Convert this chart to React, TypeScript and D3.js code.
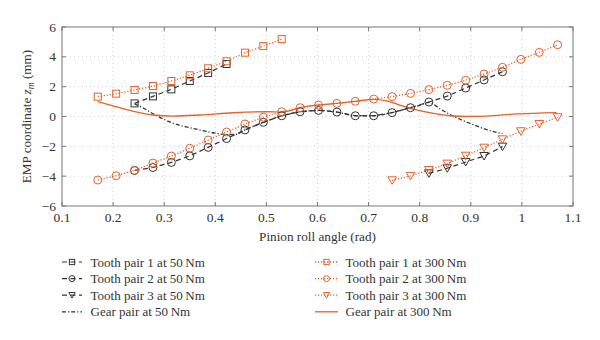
import React from "react";
import * as d3 from "d3";

const xTicks = [0.1, 0.2, 0.3, 0.4, 0.5, 0.6, 0.7, 0.8, 0.9, 1, 1.1];
const yTicks = [-6, -4, -2, 0, 2, 4, 6];

const tp1x = [0.17, 0.206, 0.242, 0.278, 0.314, 0.35, 0.386, 0.422, 0.458, 0.494, 0.53];
const tp1_300 = [1.33, 1.53, 1.78, 2.04, 2.38, 2.76, 3.23, 3.7, 4.28, 4.72, 5.19];
const tp1x50 = [0.242, 0.278, 0.314, 0.35, 0.386, 0.422];
const tp1_50 = [0.88, 1.35, 1.82, 2.38, 2.92, 3.52];

const tp2x300 = [0.17, 0.206, 0.242, 0.278, 0.314, 0.35, 0.386, 0.422, 0.458, 0.494, 0.53, 0.566, 0.602, 0.638, 0.674, 0.71, 0.746, 0.782, 0.818, 0.854, 0.89, 0.926, 0.962, 0.998, 1.034, 1.07];
const tp2_300 = [-4.26, -3.97, -3.61, -3.12, -2.65, -2.13, -1.58, -1.04, -0.5, -0.05, 0.32, 0.59, 0.77, 0.88, 1.02, 1.17, 1.33, 1.55, 1.8, 2.09, 2.43, 2.85, 3.3, 3.83, 4.3, 4.81];
const tp2x50 = [0.242, 0.278, 0.314, 0.35, 0.386, 0.422, 0.458, 0.494, 0.53, 0.566, 0.602, 0.638, 0.674, 0.71, 0.746, 0.782, 0.818, 0.854, 0.89, 0.926, 0.962];
const tp2_50 = [-3.62, -3.42, -3.08, -2.64, -2.07, -1.48, -0.9, -0.39, 0.05, 0.32, 0.41, 0.3, 0.05, 0.05, 0.26, 0.59, 0.97, 1.37, 1.91, 2.45, 3.0];

const tp3x300 = [0.746, 0.782, 0.818, 0.854, 0.89, 0.926, 0.962, 0.998, 1.034, 1.07];
const tp3_300 = [-4.28, -3.98, -3.59, -3.16, -2.63, -2.09, -1.53, -0.99, -0.5, -0.05];
const tp3x50 = [0.818, 0.854, 0.89, 0.926, 0.962];
const tp3_50 = [-3.81, -3.47, -3.05, -2.65, -2.02];

const gx50 = [0.242, 0.26, 0.28, 0.3, 0.32, 0.35, 0.38, 0.4, 0.42, 0.44, 0.458, 0.494, 0.53, 0.566, 0.602, 0.638, 0.674, 0.71, 0.746, 0.782, 0.8, 0.818, 0.84, 0.86, 0.88, 0.9, 0.92, 0.94, 0.962];
const g50 = [0.85, 0.55, 0.15, -0.2, -0.48, -0.75, -0.98, -1.12, -1.22, -1.2, -0.9, -0.39, 0.05, 0.32, 0.41, 0.3, 0.05, 0.05, 0.26, 0.59, 0.75, 0.95, 0.5, 0.12, -0.2, -0.48, -0.75, -0.97, -1.15];
const gx300 = [0.17, 0.2, 0.24, 0.278, 0.317, 0.37, 0.435, 0.5, 0.53, 0.55, 0.566, 0.602, 0.638, 0.674, 0.71, 0.735, 0.761, 0.794, 0.827, 0.86, 0.892, 0.93, 0.99, 1.068];
const g300 = [1.0, 0.72, 0.35, 0.1, 0.03, 0.1, 0.25, 0.32, 0.3, 0.42, 0.59, 0.77, 0.88, 1.02, 1.15, 1.05, 0.77, 0.44, 0.21, 0.05, 0.0, 0.03, 0.17, 0.26];

const ORANGE = "#e2622c";
const DARK = "#333333";
const FONT = "Liberation Serif";

const M = { left: 62, right: 573, top: 27, bottom: 206 };

export default function App() {
  const x = d3.scaleLinear().domain([0.1, 1.1]).range([M.left, M.right]);
  const y = d3.scaleLinear().domain([-6, 6]).range([M.bottom, M.top]);

  const zip = (xs: number[], ys: number[]) => xs.map((v, i) => [v, ys[i]] as [number, number]);
  const straight = d3.line<[number, number]>().x((d) => x(d[0])).y((d) => y(d[1]));
  const smooth = d3
    .line<[number, number]>()
    .x((d) => x(d[0]))
    .y((d) => y(d[1]))
    .curve(d3.curveMonotoneX);

  type MarkerFn = (cx: number, cy: number, c: string, k: string, s?: number) => React.ReactElement;
  const square: MarkerFn = (cx, cy, color, k, s = 1) => (
    <rect key={k} x={cx - 3.5 * s} y={cy - 3.5 * s} width={7 * s} height={7 * s} fill="none" stroke={color} strokeWidth={1} />
  );
  const circle: MarkerFn = (cx, cy, color, k, s = 1) => (
    <circle key={k} cx={cx} cy={cy} r={4 * s} fill="none" stroke={color} strokeWidth={1} />
  );
  const tri: MarkerFn = (cx, cy, color, k, s = 1) => (
    <path
      key={k}
      d={`M${cx - 4.3 * s},${cy - 3.5 * s}L${cx + 4.3 * s},${cy - 3.5 * s}L${cx},${cy + 4 * s}Z`}
      fill="none"
      stroke={color}
      strokeWidth={1}
    />
  );

  type Series = {
    xs: number[];
    ys: number[];
    color: string;
    dash: string;
    marker: MarkerFn | null;
    width: number;
    curve: boolean;
    label: string;
  };

  const dashed = "5,3.5";
  const dotted = "1.2,1.8";
  const dashdot = "4,2,1.2,2";

  const series: Series[] = [
    { xs: tp1x50, ys: tp1_50, color: DARK, dash: dashed, marker: square, width: 1.2, curve: false, label: "Tooth pair 1 at 50\u2009Nm" },
    { xs: tp2x50, ys: tp2_50, color: DARK, dash: dashed, marker: circle, width: 1.2, curve: false, label: "Tooth pair 2 at 50\u2009Nm" },
    { xs: tp3x50, ys: tp3_50, color: DARK, dash: dashed, marker: tri, width: 1.2, curve: false, label: "Tooth pair 3 at 50\u2009Nm" },
    { xs: gx50, ys: g50, color: DARK, dash: dashdot, marker: null, width: 1.3, curve: true, label: "Gear pair at 50\u2009Nm" },
    { xs: tp1x, ys: tp1_300, color: ORANGE, dash: dotted, marker: square, width: 1.3, curve: false, label: "Tooth pair 1 at 300\u2009Nm" },
    { xs: tp2x300, ys: tp2_300, color: ORANGE, dash: dotted, marker: circle, width: 1.3, curve: false, label: "Tooth pair 2 at 300\u2009Nm" },
    { xs: tp3x300, ys: tp3_300, color: ORANGE, dash: dotted, marker: tri, width: 1.3, curve: false, label: "Tooth pair 3 at 300\u2009Nm" },
    { xs: gx300, ys: g300, color: ORANGE, dash: "", marker: null, width: 1.3, curve: true, label: "Gear pair at 300\u2009Nm" },
  ];

  const drawOrder = [3, 7, 0, 1, 2, 4, 5, 6];
  const tickTxt = { fontFamily: FONT, fontSize: 13.5, fill: "#333" } as React.CSSProperties;
  const txt = { fontFamily: FONT, fontSize: 13.2, fill: "#333" } as React.CSSProperties;
  const lgTxt = { fontFamily: FONT, fontSize: 13, fill: "#333" } as React.CSSProperties;

  return (
    <svg width={600} height={340} style={{ position: "absolute", left: 0, top: 0, background: "#fff" }}>
      <rect x={0} y={0} width={600} height={340} fill="#fff" />
      {xTicks.slice(1, -1).map((t) => (
        <line key={"gx" + t} x1={x(t)} x2={x(t)} y1={M.top} y2={M.bottom} stroke="#c4c4c4" strokeWidth={0.8} strokeDasharray="1,3" />
      ))}
      {yTicks.slice(1, -1).map((t) => (
        <line key={"gy" + t} x1={M.left} x2={M.right} y1={y(t)} y2={y(t)} stroke="#c4c4c4" strokeWidth={0.8} strokeDasharray="1,3" />
      ))}
      {xTicks.map((t) => (
        <g key={"tx" + t}>
          <line x1={x(t)} x2={x(t)} y1={M.bottom} y2={M.bottom - 4} stroke="#777" />
          <line x1={x(t)} x2={x(t)} y1={M.top} y2={M.top + 4} stroke="#777" />
          <text x={x(t)} y={M.bottom + 16} textAnchor="middle" style={tickTxt}>
            {String(t)}
          </text>
        </g>
      ))}
      {yTicks.map((t) => (
        <g key={"ty" + t}>
          <line x1={M.left} x2={M.left + 4} y1={y(t)} y2={y(t)} stroke="#777" />
          <line x1={M.right} x2={M.right - 4} y1={y(t)} y2={y(t)} stroke="#777" />
          <text x={M.left - 6} y={y(t) + 4.5} textAnchor="end" style={tickTxt}>
            {t < 0 ? "\u2212" + Math.abs(t) : String(t)}
          </text>
        </g>
      ))}
      {drawOrder.map((i) => {
        const s = series[i];
        const pts = zip(s.xs, s.ys);
        return (
          <g key={"s" + i}>
            <path
              d={(s.curve ? smooth : straight)(pts) || ""}
              fill="none"
              stroke={s.color}
              strokeWidth={s.width}
              strokeDasharray={s.dash || undefined}
            />
            {s.marker && pts.map((p, j) => s.marker!(x(p[0]), y(p[1]), s.color, "m" + i + "-" + j))}
          </g>
        );
      })}
      <rect x={M.left} y={M.top} width={M.right - M.left} height={M.bottom - M.top} fill="none" stroke="#777" strokeWidth={1} />
      <text x={(M.left + M.right) / 2} y={241} textAnchor="middle" style={txt}>
        Pinion roll angle (rad)
      </text>
      <text transform={`translate(31,${(M.top + M.bottom) / 2}) rotate(-90)`} textAnchor="middle" style={txt}>
        EMP coordinate <tspan fontStyle="italic">z</tspan>
        <tspan fontStyle="italic" fontSize={9.5} dy={3}>m</tspan>
        <tspan dy={-3}> (mm)</tspan>
      </text>
      {series.map((s, i) => {
        const col = i < 4 ? 0 : 1;
        const row = i % 4;
        const x0 = col === 0 ? 62 : 315;
        const x1 = col === 0 ? 82 : 338;
        const tx = col === 0 ? 90.5 : 345.5;
        const cy = 262 + row * 16.6;
        const mx = (x0 + x1) / 2;
        return (
          <g key={"lg" + i}>
            <line x1={x0} x2={x1} y1={cy} y2={cy} stroke={s.color} strokeWidth={s.width} strokeDasharray={s.dash || undefined} />
            {s.marker && s.marker(mx, cy, s.color, "lm" + i, 0.75)}
            <text x={tx} y={cy + 4.5} style={lgTxt}>
              {s.label}
            </text>
          </g>
        );
      })}
    </svg>
  );
}
